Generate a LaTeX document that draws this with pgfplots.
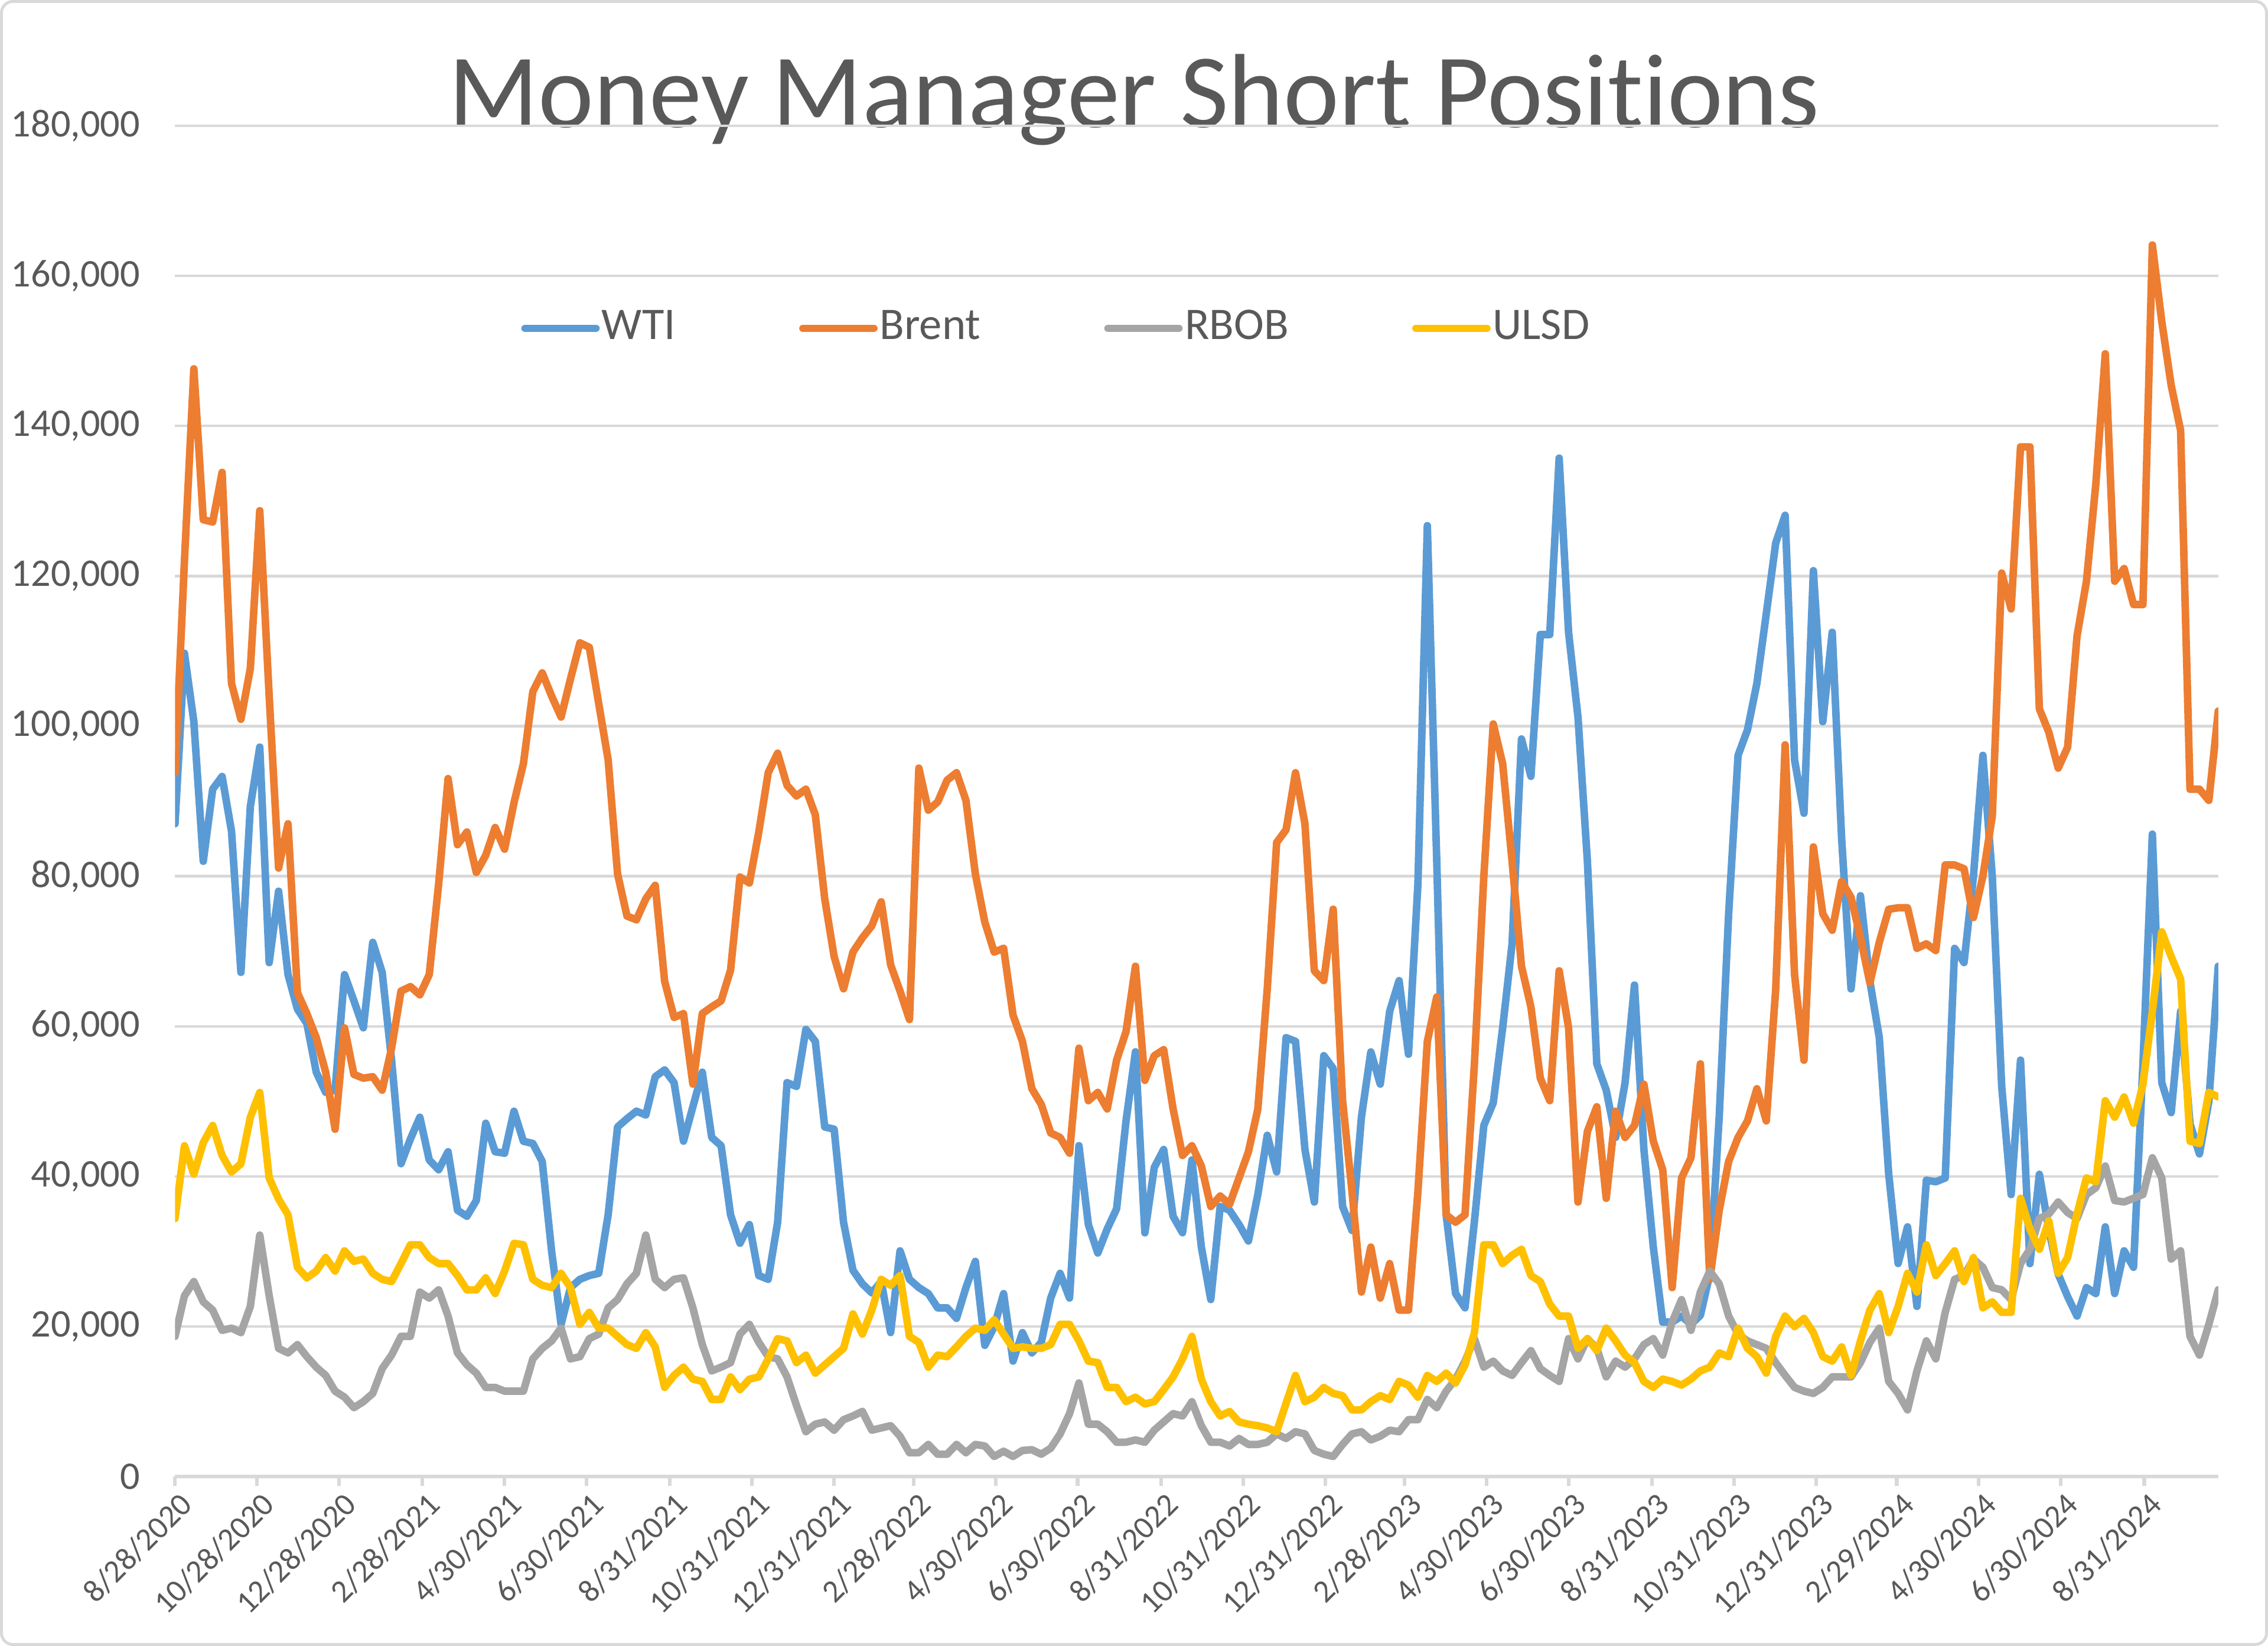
\documentclass[border=0pt]{standalone}
\usepackage{pgfplots}
\pgfplotsset{compat=1.18}
\usepackage{pgfplotstable}
\usepackage{fontspec}
\setmainfont{Carlito}[Ligatures=NoCommon]
\definecolor{cwti}{HTML}{5B9BD5}
\definecolor{cbrent}{HTML}{ED7D31}
\definecolor{crbob}{HTML}{A5A5A5}
\definecolor{culsd}{HTML}{FFC000}
\definecolor{ctext}{HTML}{595959}
\definecolor{cgrid}{HTML}{D9D9D9}

% week index (0 = 8/28/2020, weekly), short positions
\pgfplotstableread{
w wti brent rbob ulsd
0 87000 93800 18700 34400
1 109700 122000 24100 44100
2 100600 147600 26000 40300
3 82000 127500 23300 44500
4 91600 127200 22200 46800
5 93300 133800 19500 42800
6 86000 105700 19800 40600
7 67200 100900 19200 41700
8 89300 107700 22700 47900
9 97200 128700 32200 51200
10 68500 104000 24100 39800
11 78000 81100 17100 37000
12 66900 87000 16500 34900
13 62300 64500 17600 27900
14 60400 61700 16000 26500
15 53900 58500 14600 27400
16 51200 53900 13500 29200
17 51500 46300 11400 27400
18 66900 59800 10600 30100
19 63400 53600 9200 28700
20 59800 53100 10000 29000
21 71200 53300 11100 27100
22 67200 51500 14400 26300
23 55500 57100 16200 26000
24 41700 64700 18700 28400
25 45000 65300 18700 30900
26 47900 64200 24600 30900
27 42200 66900 23800 29200
28 40900 79000 24900 28400
29 43300 93000 21400 28400
30 35500 84200 16500 26800
31 34700 85900 14900 24900
32 36800 80500 13800 24900
33 47100 82800 11900 26500
34 43300 86500 11900 24400
35 43100 83600 11400 27400
36 48700 89800 11400 31100
37 44700 95000 11400 30900
38 44400 104600 15700 26300
39 42000 107100 17100 25500
40 30000 104000 18100 25200
41 20300 101200 19800 27100
42 25200 106300 15700 25200
43 26300 111100 16000 20300
44 26800 110500 18400 21900
45 27100 103000 19000 19800
46 34900 95500 22500 19800
47 46600 80300 23600 18700
48 47700 74700 25700 17600
49 48700 74200 27100 17100
50 48200 77000 32200 19200
51 53300 78800 26300 17300
52 54200 66000 25200 11900
53 52500 61200 26300 13500
54 44700 61700 26500 14600
55 49300 52300 22500 13000
56 53900 61700 17600 12700
57 45200 62600 14100 10300
58 44100 63400 14600 10300
59 34900 67500 15200 13300
60 31100 79900 19000 11600
61 33600 79100 20300 13000
62 26800 85900 17900 13300
63 26300 93800 16000 15700
64 33900 96400 15700 18400
65 52500 92100 13300 18100
66 52000 90700 9500 15200
67 59600 91600 6000 16200
68 58000 88200 7000 13800
69 46600 77000 7300 14900
70 46300 69300 6200 16000
71 33900 65000 7600 17100
72 27500 69900 8100 21700
73 25700 71800 8700 19000
74 24500 73400 6200 22200
75 26000 76600 6500 26300
76 19200 68200 6800 25500
77 30100 64700 5400 26800
78 26300 60900 3200 18700
79 25200 94400 3200 17900
80 24400 88800 4300 14600
81 22500 89900 3000 16200
82 22500 92800 3000 16000
83 21100 93800 4300 17300
84 25200 90100 3200 18700
85 28700 80300 4300 19800
86 17500 73900 4100 19500
87 20000 69900 2700 20900
88 24400 70400 3400 19000
89 15400 61500 2700 17100
90 19200 58000 3500 17300
91 16500 51700 3600 17100
92 17900 49600 3000 17100
93 23800 45800 3800 17600
94 27100 45200 5700 20300
95 23800 43100 8400 20300
96 44100 57100 12500 18100
97 33600 50100 7000 15400
98 29800 51200 7000 15200
99 33000 49000 6000 11900
100 35700 55500 4600 11900
101 47400 59300 4600 10000
102 56600 68000 4900 10600
103 32500 52800 4600 9700
104 41200 56100 6200 10000
105 43600 56900 7300 11600
106 34700 49000 8400 13300
107 32500 42800 8100 15700
108 42200 44100 10000 18700
109 30600 41400 6800 13000
110 23600 36000 4600 10000
111 36000 37400 4600 8100
112 35500 36300 4100 8700
113 33600 39800 5100 7300
114 31400 43300 4300 7000
115 37600 49000 4300 6800
116 45500 65000 4600 6500
117 40600 84500 5700 6000
118 58500 86200 5100 9800
119 58000 93800 6000 13500
120 43600 87000 5700 10000
121 36600 67400 3500 10600
122 56100 66100 3000 11900
123 54400 75600 2700 11100
124 36000 50100 4300 10800
125 32800 38000 5700 8900
126 47900 24600 6000 8900
127 56600 30600 4900 10000
128 52300 23800 5400 10800
129 62000 28400 6200 10300
130 66100 22200 6000 12700
131 56300 22200 7600 12200
132 79000 38000 7600 10600
133 126700 58000 10300 13500
134 82000 63900 9200 12700
135 34900 34900 11400 13800
136 24400 33900 13000 12500
137 22500 34900 15400 14900
138 34000 55000 18400 19200
139 46800 80000 14600 30900
140 49800 100300 15400 30900
141 59800 95000 14100 28400
142 71000 82000 13500 29500
143 98300 68000 15200 30300
144 93300 62600 16800 26800
145 112200 53100 14400 26000
146 112200 50100 13500 23000
147 135700 67400 12700 21400
148 112500 59800 18400 21400
149 101200 36600 15700 17100
150 82000 46000 18400 18400
151 55000 49300 17100 16800
152 51500 37100 13300 19800
153 45200 48700 15400 18100
154 52500 45200 14600 16200
155 65500 46800 15700 15200
156 43600 52300 17600 12700
157 30600 44700 18400 11900
158 20600 40900 16200 13000
159 20600 25200 20600 12700
160 21400 39800 23600 12200
161 20300 42500 19500 13000
162 21500 55000 24600 14100
163 27000 26300 27400 14600
164 48000 35500 25700 16500
165 75000 42000 21400 16000
166 96100 45200 19000 19800
167 99500 47400 18100 17100
168 105700 51700 17600 16000
169 115000 47400 17100 13800
170 124400 65000 15200 18700
171 128100 97500 13500 21400
172 95500 66900 11900 20000
173 88400 55500 11400 21100
174 120700 83900 11100 19200
175 100600 75000 11900 16000
176 112500 72800 13300 15400
177 85000 79300 13300 17300
178 65000 77200 13300 13500
179 77400 71800 15200 18100
180 66000 65800 17900 22200
181 58500 71200 19800 24400
182 40300 75600 12700 19200
183 28400 75800 11100 22700
184 33300 75800 8900 27100
185 22700 70400 14100 24600
186 39500 71000 18100 30900
187 39300 70100 15700 26800
188 39800 81500 21900 28400
189 70400 81500 26300 30100
190 68500 81000 26800 26000
191 80000 74500 29000 29200
192 96100 80000 27900 22500
193 80000 88000 25200 23300
194 52000 120400 24900 21900
195 37600 115600 23600 21900
196 55500 137200 28400 37100
197 28400 137200 30300 33000
198 40300 102300 34400 30300
199 33000 99200 35000 34100
200 27000 94400 36600 27100
201 24000 97200 35200 29200
202 21400 112000 34400 35000
203 25200 119300 37600 39800
204 24400 132300 38500 39300
205 33300 149600 41400 50100
206 24400 119300 36800 47900
207 30100 121000 36600 50600
208 27900 116200 37100 47100
209 55000 116200 37600 52300
210 85600 164100 42500 62000
211 52500 153900 39800 72600
212 48500 145400 29000 69300
213 62000 139400 30100 66300
214 47000 91600 18700 44700
215 43000 91600 16200 44400
216 50000 90100 20300 51200
217 68000 102000 24900 50600
}\mmdata

\begin{document}
\begin{tikzpicture}
\path[draw=cgrid, line width=0.2mm, rounded corners=0.8mm] (0.1mm,0.1mm) rectangle (156.7mm,113.7mm);
\node[anchor=base, text=ctext, font=\fontsize{20.7}{24}\selectfont] at (78.4mm,105.0mm) {Money Manager Short Positions};
\begin{axis}[
  at={(12.1mm,11.7mm)}, anchor=south west,
  scale only axis, width=141.26mm, height=93.41mm,
  xmin=0, xmax=217, ymin=0, ymax=180000,
  scaled y ticks=false, scaled x ticks=false,
  axis x line*=bottom, axis y line*=left,
  x axis line style={draw=cgrid, line width=0.25mm, -},
  y axis line style={draw=none},
  ymajorgrids, grid style={cgrid, line width=0.18mm},
  ytick={0,20000,40000,60000,80000,100000,120000,140000,160000,180000},
  yticklabels={0,{20,000},{40,000},{60,000},{80,000},{100,000},{120,000},{140,000},{160,000},{180,000}},
  ytick style={draw=none},
  tick align=outside,
  major tick length=0.65mm,
  xtick style={draw=cgrid, line width=0.25mm},
  xtick={0,8.714,17.429,26.286,35,43.714,52.571,61.286,70,78.429,87.143,95.857,104.714,113.429,122.143,130.571,139.286,148,156.857,165.571,174.286,182.857,191.571,200.286,209.143},
  xticklabels={8/28/2020,10/28/2020,12/28/2020,2/28/2021,4/30/2021,6/30/2021,8/31/2021,10/31/2021,12/31/2021,2/28/2022,4/30/2022,6/30/2022,8/31/2022,10/31/2022,12/31/2022,2/28/2023,4/30/2023,6/30/2023,8/31/2023,10/31/2023,12/31/2023,2/29/2024,4/30/2024,6/30/2024,8/31/2024},
  xticklabel style={rotate=45, anchor=east, text=ctext, font=\fontsize{6.3}{7}\selectfont, inner sep=0mm, yshift=-1.2mm},
  yticklabel style={text=ctext, font=\fontsize{7.7}{9}\selectfont, inner sep=0mm, xshift=-1.7mm},
  legend columns=4,
  legend style={draw=none, fill=none, at={(0.4314,0.85)}, anchor=center,
    font=\fontsize{8.9}{10}\selectfont, text=ctext,
    nodes={inner sep=0.15mm},
    /tikz/every even column/.append style={column sep=8.4mm}},
  legend image code/.code={\draw[#1, line cap=round] (0mm,0mm) -- (4.9mm,0mm);},
  every axis plot/.append style={line width=0.52mm, line join=round, line cap=round, mark=none},
]
\addplot[cwti] table[x=w, y=wti] {\mmdata};
\addlegendentry{WTI}
\addplot[cbrent] table[x=w, y=brent] {\mmdata};
\addlegendentry{Brent}
\addplot[crbob] table[x=w, y=rbob] {\mmdata};
\addlegendentry{RBOB}
\addplot[culsd] table[x=w, y=ulsd] {\mmdata};
\addlegendentry{ULSD}
\end{axis}
\end{tikzpicture}
\end{document}
